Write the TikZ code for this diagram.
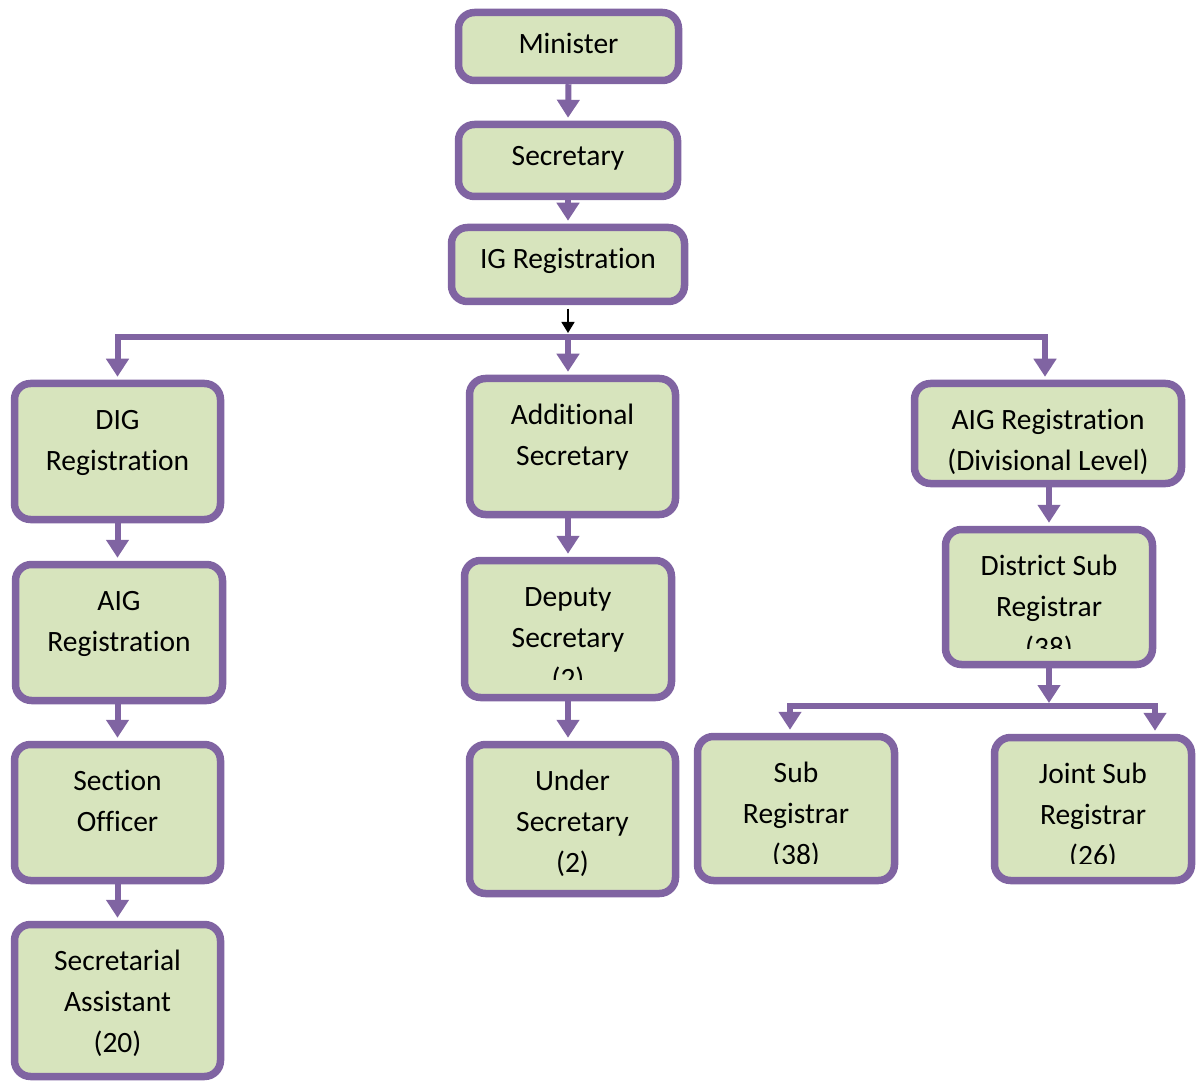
\documentclass[tikz,border=0pt]{standalone}
\usepackage{fontspec}
\setmainfont{Carlito}[Ligatures=NoCommon]
\usetikzlibrary{arrows.meta,calc}
\definecolor{orgline}{HTML}{8064A2}
\definecolor{orgfill}{HTML}{D7E4BD}
\begin{document}
\begin{tikzpicture}[x=1pt,y=-1pt,
  orgbox/.style={draw=orgline, line width=7.5pt, fill=orgfill, rounded corners=16pt, inner sep=0pt},
  orgtext/.style={font=\fontsize{29.5}{41}\selectfont, align=center, inner sep=0pt, anchor=north},
  oneline/.style={orgtext, yshift=-16pt},
  multiline/.style={orgtext, yshift=-20.5pt},
  link/.style={draw=orgline, line width=6pt},
  linkarrow/.style={link, -{Triangle[length=18pt,width=22pt]}, shorten >=3pt}]

\useasboundingbox (0,0) rectangle (1203,1083);

% top chain
\node[orgbox, minimum width=220pt, minimum height=68pt] (min) at (568.5,46.5) {};
\node[oneline] (min-t) at (min.north) {\strut Minister};
\node[orgbox, minimum width=219pt, minimum height=72pt] (sec) at (568,160.5) {};
\node[oneline] (sec-t) at (sec.north) {\strut Secretary};
\node[orgbox, minimum width=233pt, minimum height=74pt] (ig) at (568,264.5) {};
\node[oneline] (ig-t) at (ig.north) {\strut IG Registration};

% left column
\node[orgbox, minimum width=206pt, minimum height=136pt] (dig) at (117.5,451.5) {};
\node[multiline] (dig-t) at (dig.north) {\strut DIG\\Registration};
\node[orgbox, minimum width=207pt, minimum height=136pt] (aig) at (119,632.5) {};
\node[multiline] (aig-t) at (aig.north) {\strut AIG\\Registration};
\node[orgbox, minimum width=206pt, minimum height=136pt] (so) at (117.5,812.5) {};
\node[multiline] (so-t) at (so.north) {\strut Section\\Officer};
\node[orgbox, minimum width=206pt, minimum height=152pt] (sa) at (117.5,1000.5) {};
\node[multiline] (sa-t) at (sa.north) {\strut Secretarial\\Assistant\\(20)};

% middle column
\node[orgbox, minimum width=206pt, minimum height=136pt] (add) at (572.5,446.5) {};
\node[multiline] (add-t) at (add.north) {\strut Additional\\Secretary};
\node[orgbox, minimum width=207pt, minimum height=137pt] (dep) at (568,629) {};
\begin{scope}
  \clip (440,540) rectangle (700,679);
  \node[multiline] (dep-t) at (dep.north) {\strut Deputy\\Secretary\\(2)};
\end{scope}
\node[orgbox, minimum width=206pt, minimum height=149pt] (und) at (572.5,819) {};
\node[multiline] (und-t) at (und.north) {\strut Under\\Secretary\\(2)};

% right column
\node[orgbox, minimum width=267pt, minimum height=100pt] (aigd) at (1048,433.5) {};
\node[multiline] (aigd-t) at (aigd.north) {\strut AIG Registration\\(Divisional Level)};
\node[orgbox, minimum width=207pt, minimum height=135pt] (dsr) at (1049,597) {};
\begin{scope}
  \clip (920,510) rectangle (1180,648);
  \node[multiline] (dsr-t) at (dsr.north) {\strut District Sub\\Registrar\\(38)};
\end{scope}
\node[orgbox, minimum width=197pt, minimum height=144pt] (sr) at (796,808.5) {};
\begin{scope}
  \clip (680,720) rectangle (910,863);
  \node[multiline] (sr-t) at (sr.north) {\strut Sub\\Registrar\\(38)};
\end{scope}
\node[orgbox, minimum width=197pt, minimum height=143pt] (jsr) at (1093,809) {};
\begin{scope}
  \clip (980,720) rectangle (1203,863);
  \node[multiline] (jsr-t) at (jsr.north) {\strut Joint Sub\\Registrar\\(26)};
\end{scope}

% connectors
\coordinate (hub) at (568,337);
\coordinate (hub2) at (1049,706);

\draw[linkarrow] (min.south) -- (sec.north);
\draw[linkarrow] (sec.south) -- (ig.north);

\draw[linkarrow] (hub) -| (dig.north);
\draw[linkarrow] (hub) -- (hub |- add.north);
\draw[linkarrow] (hub) -| ([xshift=-3pt]aigd.north);
\draw[black, line width=1.5pt, -{Triangle[length=11pt,width=13pt]}]
  ([yshift=-3.5pt]ig.south) -- ([yshift=4pt]hub);

\draw[linkarrow] (dig.south) -- (dig.south |- aig.north);
\draw[linkarrow] (aig.south -| dig.south) -- (dig.south |- so.north);
\draw[linkarrow] (so.south) -- (so.south |- sa.north);

\draw[linkarrow] (add.south -| dep.north) -- (dep.north);
\draw[linkarrow] (dep.south) -- (dep.south |- und.north);

\draw[linkarrow] (aigd.south -| dsr.north) -- (dsr.north);
\draw[linkarrow] (dsr.south) -- (hub2);
\draw[linkarrow] (hub2) -| ([xshift=-6pt]sr.north);
\draw[linkarrow] (hub2) -| ([xshift=62pt]jsr.north);
\end{tikzpicture}
\end{document}
